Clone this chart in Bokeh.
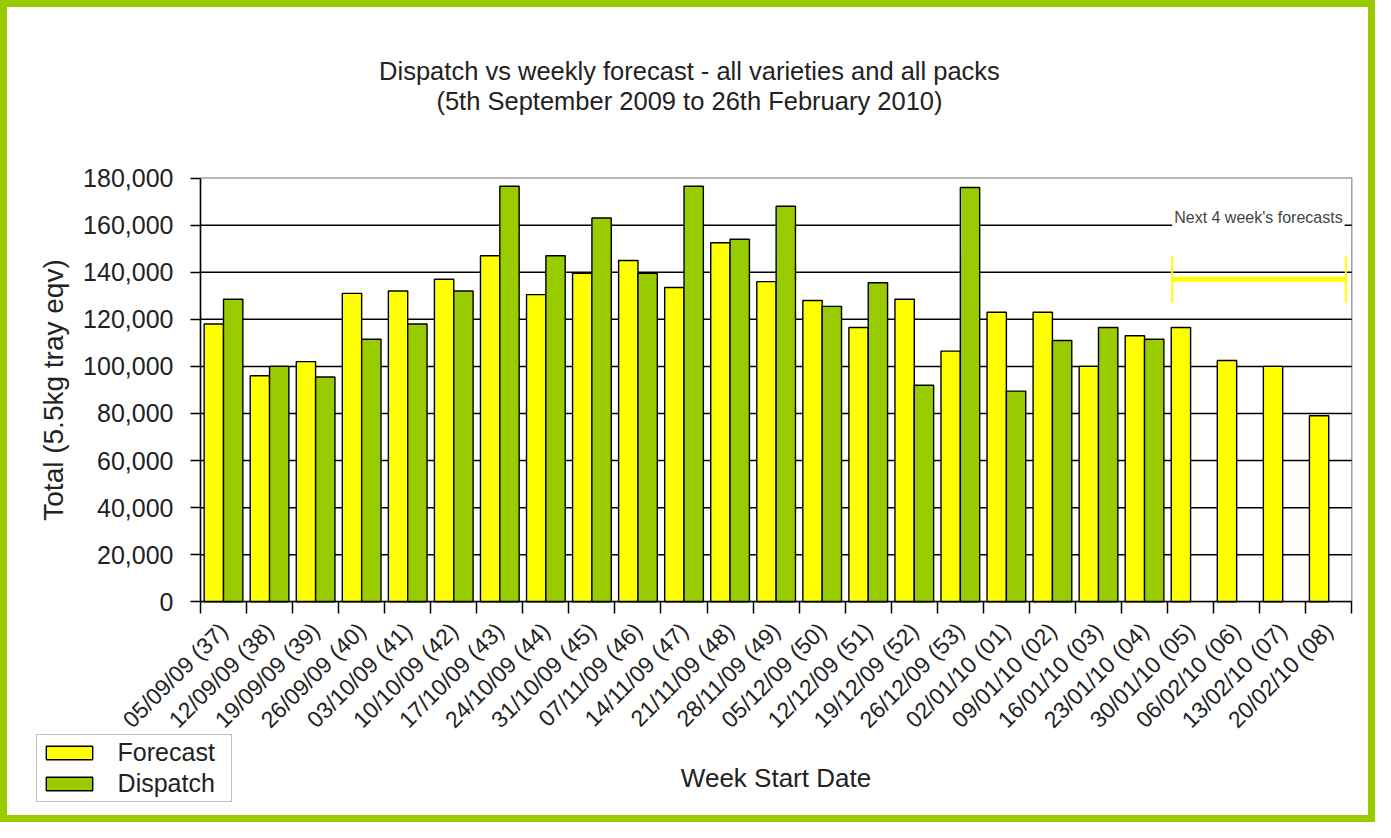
import numpy as np
from math import pi
from bokeh.plotting import figure
from bokeh.models import (Range1d, FixedTicker, NumeralTickFormatter, Legend,
                          LegendItem, Label, LinearAxis)
from bokeh.embed import file_html
from bokeh.resources import INLINE

# ---------------- data ----------------
weeks = ["05/09/09 (37)", "12/09/09 (38)", "19/09/09 (39)", "26/09/09 (40)",
         "03/10/09 (41)", "10/10/09 (42)", "17/10/09 (43)", "24/10/09 (44)",
         "31/10/09 (45)", "07/11/09 (46)", "14/11/09 (47)", "21/11/09 (48)",
         "28/11/09 (49)", "05/12/09 (50)", "12/12/09 (51)", "19/12/09 (52)",
         "26/12/09 (53)", "02/01/10 (01)", "09/01/10 (02)", "16/01/10 (03)",
         "23/01/10 (04)", "30/01/10 (05)", "06/02/10 (06)", "13/02/10 (07)",
         "20/02/10 (08)"]
forecast = [118000, 96000, 102000, 131000, 132000, 137000, 147000, 130500,
            139500, 145000, 133500, 152500, 136000, 128000, 116500, 128500,
            106500, 123000, 123000, 100000, 113000, 116500, 102500, 100000,
            79000]
dispatch = [128500, 100000, 95500, 111500, 118000, 132000, 176500, 147000,
            163000, 139500, 176500, 154000, 168000, 125500, 135500, 92000,
            176000, 89500, 111000, 116500, 111500]
y_ticks = [0, 20000, 40000, 60000, 80000, 100000, 120000, 140000, 160000, 180000]
title1 = "Dispatch vs weekly forecast - all varieties and all packs"
title2 = "(5th September 2009 to 26th February 2010)"
note = "Next 4 week's forecasts"

# ---------------- styling / layout ----------------
FONT = "Liberation Sans"
YELLOW = "#ffff00"
GREEN = "#99cc00"
W, H = 1375, 822
REF_W, REF_H = 1391, 838
def sx(v):
    return v * W / REF_W
def sy(v):
    return v * H / REF_H

n = len(weeks)
ymax = y_ticks[-1]
# plot-area pixel box (canvas)
PL, PR, PT, PB = sx(202.3), sx(1367), sy(181), sy(613)
kx = (PR - PL) / n
ky = (PB - PT) / ymax
x_start = -PL / kx
x_end = n + (W - PR) / kx
y_start = -(H - PB) / ky
y_end = ymax + PT / ky
def xd(px):
    return x_start + px / kx
def yd(py):
    return y_end - py / ky

centers = np.arange(n) + 0.5
bounds = list(range(n + 1))

p = figure(width=W, height=H, output_backend="svg", toolbar_location=None,
           title=None, x_axis_type=None, y_axis_type=None,
           x_range=Range1d(x_start, x_end), y_range=Range1d(y_start, y_end),
           min_border=0, min_border_left=0, min_border_right=0,
           min_border_top=0, min_border_bottom=0)
p.background_fill_color = "white"
p.border_fill_color = "white"
p.outline_line_color = GREEN
p.outline_line_width = 13

# plot area border (top/right grey) and horizontal gridlines
p.quad(left=[0], right=[n], bottom=[0], top=[ymax], fill_color=None,
       line_color="#a0a0a0", line_width=1.5)
gy = y_ticks[1:-1]
p.segment(x0=[0] * len(gy), x1=[n] * len(gy), y0=gy, y1=gy,
          line_color="black", line_width=1.5)

bw = 0.42
rf = p.vbar(x=centers[:len(forecast)] - bw / 2, top=forecast, width=bw,
            fill_color=YELLOW, line_color="black", line_width=1.4)
rd = p.vbar(x=centers[:len(dispatch)] + bw / 2, top=dispatch, width=bw,
            fill_color=GREEN, line_color="black", line_width=1.4)

# y axis
ya = LinearAxis(fixed_location=0, bounds=(0, ymax),
                ticker=FixedTicker(ticks=y_ticks),
                formatter=NumeralTickFormatter(format="0,0"))
ya.axis_line_color = "black"
ya.axis_line_width = 1.5
ya.major_tick_out = 10
ya.major_tick_in = 0
ya.major_tick_line_width = 1.5
ya.minor_tick_line_color = None
ya.major_label_text_font = FONT
ya.major_label_text_font_size = "25px"
ya.major_label_text_color = "#222222"
ya.major_label_standoff = 17
ya.axis_label = "Total (5.5kg tray eqv)"
ya.axis_label_text_font = FONT
ya.axis_label_text_font_size = "28px"
ya.axis_label_text_font_style = "normal"
ya.axis_label_text_color = "#222222"
ya.axis_label_standoff = 11
p.add_layout(ya, "left")

# x axis
xa = LinearAxis(fixed_location=0, bounds=(0, n),
                ticker=FixedTicker(ticks=list(centers), minor_ticks=bounds))
xa.major_label_overrides = {float(c): w for c, w in zip(centers, weeks)}
xa.major_tick_out = 0
xa.major_tick_in = 0
xa.minor_tick_out = 12
xa.minor_tick_in = 0
xa.minor_tick_line_color = "black"
xa.minor_tick_line_width = 1.5
xa.axis_line_color = "black"
xa.axis_line_width = 1.5
xa.major_label_orientation = pi / 4
xa.major_label_text_font = FONT
xa.major_label_text_font_size = "23px"
xa.major_label_text_color = "#222222"
xa.major_label_standoff = 13
xa.axis_label = "Week Start Date"
xa.axis_label_text_font = FONT
xa.axis_label_text_font_size = "26px"
xa.axis_label_text_font_style = "normal"
xa.axis_label_text_color = "#222222"
xa.axis_label_standoff = 18
p.add_layout(xa, "below")

# titles
p.add_layout(Label(x=xd(sx(697)), y=yd(sy(72)), text=title1,
                   text_align="center", text_baseline="middle",
                   text_font=FONT, text_font_size="25.5px", text_color="#222222"))
p.add_layout(Label(x=xd(sx(697)), y=yd(sy(102)), text=title2,
                   text_align="center", text_baseline="middle",
                   text_font=FONT, text_font_size="25.5px", text_color="#222222"))

# forecast bracket annotation
bx0, bx1 = 21.1, 24.87
p.segment(x0=[bx0], y0=[137000], x1=[bx1], y1=[137000], line_color=YELLOW, line_width=5)
p.segment(x0=[bx0, bx1], y0=[127000, 127000], x1=[bx0, bx1], y1=[147000, 147000],
          line_color=YELLOW, line_width=2)
p.add_layout(Label(x=bx0, y=160000, text=note,
                   text_font=FONT, text_font_size="16px", text_color="#444444",
                   text_baseline="bottom", y_offset=-3,
                   background_fill_color="white", padding=2))

legend = Legend(items=[LegendItem(label="Forecast", renderers=[rf]),
                       LegendItem(label="Dispatch", renderers=[rd])],
                location=(sx(36), H - sy(818)), orientation="vertical",
                glyph_width=58, glyph_height=17, label_standoff=20,
                label_width=110, padding=3, spacing=2, margin=0,
                label_text_font=FONT, label_text_font_size="25px",
                label_text_color="#222222",
                border_line_color="#808080", border_line_width=1.5,
                background_fill_color="white", background_fill_alpha=1)
p.add_layout(legend, "center")

open("out.html", "w").write(file_html(p, INLINE))
